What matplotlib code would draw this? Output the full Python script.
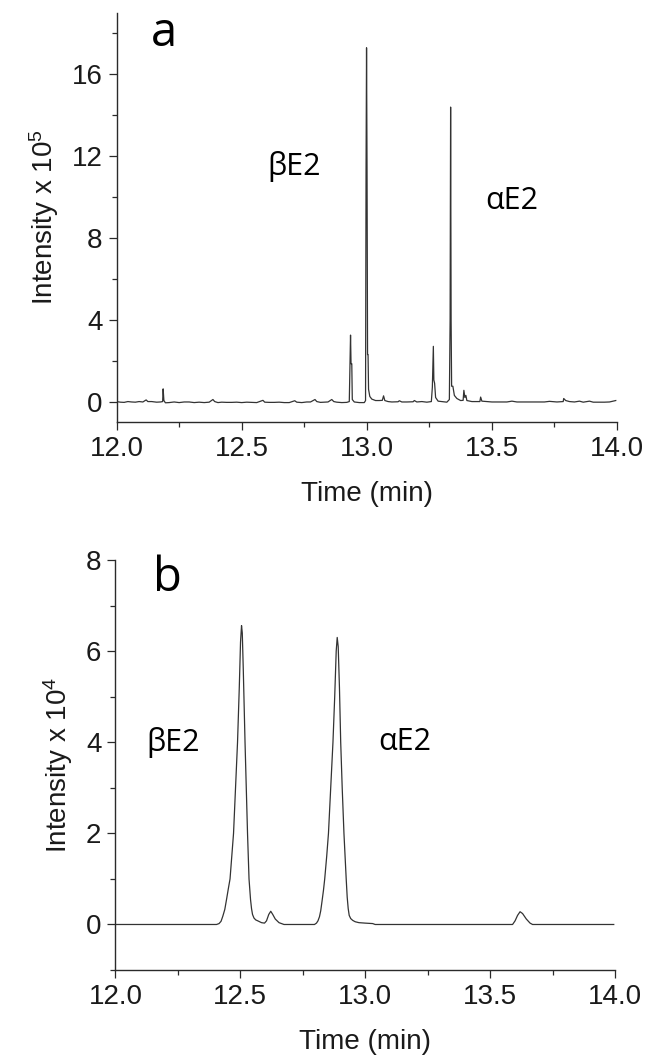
import matplotlib
matplotlib.use("Agg")
import matplotlib.pyplot as plt
from matplotlib.ticker import MultipleLocator

# ---------------- data ----------------
# Panel a: time (min), intensity (x 10^5)
time_a = [12.000, 12.015, 12.030, 12.045, 12.060, 12.075, 12.090, 12.105, 12.118, 12.125,
          12.140, 12.160, 12.175, 12.184, 12.186, 12.189, 12.195, 12.210, 12.230, 12.250,
          12.270, 12.290, 12.310, 12.330, 12.350, 12.370, 12.385, 12.392, 12.405, 12.420,
          12.440, 12.460, 12.480, 12.500, 12.520, 12.540, 12.560, 12.585, 12.592, 12.610,
          12.630, 12.650, 12.670, 12.690, 12.712, 12.720, 12.740, 12.760, 12.775, 12.793,
          12.800, 12.815, 12.830, 12.845, 12.860, 12.868, 12.880, 12.900, 12.920, 12.930,
          12.933, 12.935, 12.937, 12.940, 12.942, 12.950, 12.970, 12.990, 12.995, 12.997,
          12.999, 13.001, 13.003, 13.005, 13.007, 13.012, 13.020, 13.035, 13.050, 13.062,
          13.067, 13.072, 13.085, 13.100, 13.125, 13.130, 13.140, 13.160, 13.185, 13.190,
          13.200, 13.220, 13.240, 13.258, 13.262, 13.266, 13.268, 13.271, 13.275, 13.285,
          13.300, 13.320, 13.330, 13.333, 13.335, 13.337, 13.339, 13.344, 13.350, 13.360,
          13.375, 13.385, 13.388, 13.392, 13.396, 13.400, 13.420, 13.440, 13.452, 13.455,
          13.460, 13.480, 13.500, 13.520, 13.540, 13.560, 13.580, 13.600, 13.625, 13.650,
          13.680, 13.710, 13.730, 13.760, 13.785, 13.787, 13.795, 13.810, 13.830, 13.850,
          13.865, 13.890, 13.905, 13.930, 13.950, 13.970, 13.985, 13.995]
intensity_a = [0.00, -0.03, -0.04, 0.00, -0.02, -0.03, 0.00, -0.02, 0.08, 0.00,
               0.00, -0.03, -0.02, 0.00, 0.62, 0.05, -0.06, -0.05, -0.02, -0.05,
               -0.02, -0.02, -0.05, -0.03, -0.05, -0.03, 0.10, 0.00, -0.05, -0.03,
               -0.04, -0.04, -0.03, -0.05, -0.03, -0.04, -0.05, 0.06, -0.03, -0.04,
               -0.04, -0.03, -0.05, -0.05, 0.04, -0.03, -0.05, -0.02, -0.02, 0.10,
               0.00, -0.04, -0.03, -0.02, 0.10, 0.00, -0.03, -0.05, -0.04, 0.00,
               2.10, 3.25, 1.85, 1.85, 0.10, -0.02, -0.05, -0.05, 0.05, 11.30,
               17.30, 11.20, 2.30, 2.30, 0.60, 0.25, 0.12, 0.05, 0.05, 0.06,
               0.28, 0.05, 0.00, -0.02, -0.01, 0.04, -0.02, -0.02, -0.01, 0.05,
               -0.02, 0.00, -0.03, 0.00, 0.70, 2.70, 1.05, 0.90, 0.20, 0.02,
               0.00, -0.03, 0.10, 4.00, 14.40, 3.95, 0.75, 0.75, 0.30, 0.15,
               0.05, 0.06, 0.55, 0.20, 0.30, 0.05, 0.00, 0.00, 0.00, 0.22,
               0.02, 0.00, -0.02, -0.02, -0.02, -0.02, 0.02, -0.02, -0.02, -0.02,
               -0.02, -0.02, 0.01, -0.02, 0.00, 0.15, 0.05, 0.00, -0.02, 0.02,
               -0.03, 0.02, -0.03, -0.03, -0.03, -0.02, 0.02, 0.05]

# Panel b: time (min), intensity (x 10^4)
time_b = [12.000, 12.405, 12.415, 12.423, 12.430, 12.438, 12.445, 12.452, 12.459, 12.466,
          12.473, 12.481, 12.489, 12.496, 12.501, 12.505, 12.508, 12.512, 12.519, 12.524,
          12.529, 12.535, 12.541, 12.545, 12.549, 12.555, 12.562, 12.570, 12.585, 12.597,
          12.605, 12.614, 12.622, 12.630, 12.640, 12.655, 12.675, 12.797, 12.805, 12.811,
          12.817, 12.822, 12.827, 12.833, 12.838, 12.846, 12.853, 12.862, 12.871, 12.878,
          12.884, 12.888, 12.892, 12.897, 12.902, 12.908, 12.915, 12.924, 12.928, 12.932,
          12.936, 12.942, 12.950, 12.960, 12.975, 13.000, 13.030, 13.040, 13.590, 13.600,
          13.610, 13.620, 13.630, 13.645, 13.660, 13.670, 13.995]
intensity_b = [0.00, 0.00, 0.02, 0.07, 0.18, 0.33, 0.55, 0.78, 1.00, 1.50,
               2.00, 3.00, 4.00, 5.20, 6.20, 6.56, 6.40, 5.60, 4.00, 3.00,
               2.00, 1.00, 0.55, 0.35, 0.22, 0.14, 0.10, 0.08, 0.04, 0.03,
               0.08, 0.22, 0.29, 0.22, 0.12, 0.04, 0.00, 0.00, 0.03, 0.08,
               0.17, 0.30, 0.50, 0.75, 1.00, 1.50, 2.00, 3.00, 4.00, 5.00,
               6.00, 6.30, 6.10, 5.20, 4.00, 3.00, 2.00, 1.00, 0.60, 0.35,
               0.20, 0.13, 0.09, 0.06, 0.04, 0.03, 0.02, 0.00, 0.00, 0.08,
               0.20, 0.28, 0.24, 0.12, 0.03, 0.00, 0.00]

x_ticks = [12.0, 12.5, 13.0, 13.5, 14.0]
x_tick_labels = ["12.0", "12.5", "13.0", "13.5", "14.0"]
y_ticks_a = [0, 4, 8, 12, 16]
y_ticks_b = [0, 2, 4, 6, 8]

# ---------------- style ----------------
plt.rcParams['font.family'] = ['Liberation Sans', 'DejaVu Sans']
plt.rcParams['mathtext.fontset'] = 'custom'
plt.rcParams['mathtext.rm'] = 'Liberation Sans'
plt.rcParams['mathtext.it'] = 'Liberation Sans'

AX_COL = '#2a2a2a'
LINE_COL = '#333333'
TICK_FS = 20
LABEL_FS = 20
ANNOT_FAMILY = ['Open Sans', 'DejaVu Sans']

fig = plt.figure(figsize=(6.46, 10.59), dpi=100)
ax_a = fig.add_axes([0.1805, 0.6015, 0.7746, 0.3862])
ax_b = fig.add_axes([0.1786, 0.0840, 0.7734, 0.3872])


def style(ax, yticks, ymax, ylabel):
    for s in ['top', 'right']:
        ax.spines[s].set_visible(False)
    for s in ['left', 'bottom']:
        ax.spines[s].set_color(AX_COL)
        ax.spines[s].set_linewidth(1.0)
    ax.set_xlim(12.0, 14.0)
    ax.set_ylim(-1, ymax)
    ax.set_xticks(x_ticks)
    ax.set_xticklabels(x_tick_labels)
    ax.xaxis.set_minor_locator(MultipleLocator(0.25))
    ax.set_yticks(yticks)
    step = yticks[1] - yticks[0]
    ax.yaxis.set_minor_locator(MultipleLocator(step / 2))
    ax.tick_params(which='major', direction='out', length=6, width=0.9,
                   color=AX_COL, labelsize=TICK_FS, labelcolor='#1a1a1a', pad=4)
    ax.tick_params(which='minor', direction='out', length=3.5, width=0.9, color=AX_COL)
    ax.set_xlabel("Time (min)", fontsize=LABEL_FS, color='#1a1a1a', labelpad=14)
    ax.set_ylabel(ylabel, fontsize=LABEL_FS, color='#1a1a1a', labelpad=8)


ax_a.plot(time_a, intensity_a, color=LINE_COL, lw=0.9)
style(ax_a, y_ticks_a, 19, r"Intensity x 10$^{5}$")
ax_a.text(12.19, 18.0, "a", fontsize=34, family=ANNOT_FAMILY, ha='center', va='center')
ax_a.text(12.71, 11.5, "βE2", fontsize=22, family=ANNOT_FAMILY, ha='center', va='center')
ax_a.text(13.58, 9.8, "αE2", fontsize=22, family=ANNOT_FAMILY, ha='center', va='center')

ax_b.plot(time_b, intensity_b, color=LINE_COL, lw=0.9)
style(ax_b, y_ticks_b, 8, r"Intensity x 10$^{4}$")
ax_b.text(12.21, 7.6, "b", fontsize=34, family=ANNOT_FAMILY, ha='center', va='center')
ax_b.text(12.23, 4.0, "βE2", fontsize=22, family=ANNOT_FAMILY, ha='center', va='center')
ax_b.text(13.16, 4.0, "αE2", fontsize=22, family=ANNOT_FAMILY, ha='center', va='center')

fig.savefig("out.png", dpi=100, facecolor='white')
